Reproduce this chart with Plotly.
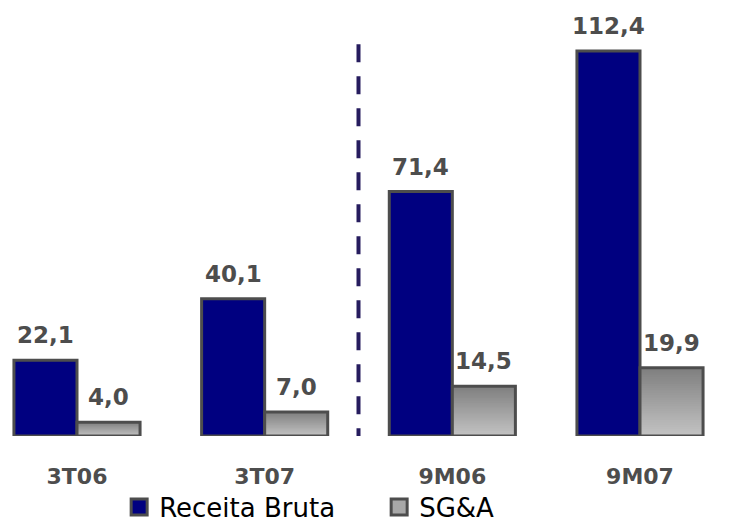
import numpy as np
import plotly.graph_objects as go

categories = ["3T06", "3T07", "9M06", "9M07"]
receita = [22.1, 40.1, 71.4, 112.4]
sga = [4.0, 7.0, 14.5, 19.9]
labels_receita = ["22,1", "40,1", "71,4", "112,4"]
labels_sga = ["4,0", "7,0", "14,5", "19,9"]

idx = np.arange(len(categories))
W = 0.336
xr = idx - W / 2
xs = idx + W / 2
outline = dict(color="#4d4d4d", width=3)
txt_font = dict(family="DejaVu Sans", size=23, color="#4d4d4d")

fig = go.Figure()
fig.add_trace(go.Bar(x=xr, y=receita, width=W, name="Receita Bruta", showlegend=False,
                     marker=dict(color="#000080", line=outline)))

# gradient fill for SG&A: nested bars from tallest (dark top) to shortest (light bottom)
N = 30
top = np.array([0x7f, 0x7f, 0x7f])
bot = np.array([0xc4, 0xc4, 0xc4])
sga_arr = np.array(sga)
for k in range(N):
    f = (N - k) / N
    t = f - 0.5 / N
    c = bot + (top - bot) * t
    fig.add_trace(go.Bar(x=xs, y=sga_arr * f, width=W,
                         marker=dict(color="rgb(%d,%d,%d)" % tuple(c), line=dict(width=0)),
                         showlegend=False, hoverinfo="skip"))
fig.add_trace(go.Bar(x=xs, y=sga, width=W, showlegend=False, name="SG&A",
                     marker=dict(color="rgba(0,0,0,0)", line=outline)))

# legend entries
fig.add_trace(go.Scatter(x=[None], y=[None], mode="markers", name="Receita Bruta",
                         marker=dict(symbol="square", size=18, color="#000080",
                                     line=dict(color="#4d4d4d", width=3))))
fig.add_trace(go.Scatter(x=[None], y=[None], mode="markers", name="SG&A",
                         marker=dict(symbol="square", size=18, color="#a8a8a8",
                                     line=dict(color="#4d4d4d", width=3))))

for x, v, s in zip(xr, receita, labels_receita):
    fig.add_annotation(x=x, y=v, text="<b>%s</b>" % s, showarrow=False,
                       yanchor="bottom", yshift=10, font=txt_font)
for x, v, s in zip(xs, sga, labels_sga):
    fig.add_annotation(x=x, y=v, text="<b>%s</b>" % s, showarrow=False,
                       yanchor="bottom", yshift=10, font=txt_font)

fig.add_shape(type="line", xref="x", yref="y", x0=1.5, x1=1.5, y0=-3, y1=114.5,
              line=dict(color="#261c5e", width=4, dash="18px,14px"))

fig.update_layout(
    width=731, height=525,
    margin=dict(l=0, r=0, t=10, b=89, autoexpand=False),
    barmode="overlay",
    plot_bgcolor="white", paper_bgcolor="white",
    showlegend=True,
    legend=dict(orientation="h", x=0.163, xanchor="left",
                yref="container", y=0.0343, yanchor="middle",
                font=dict(family="DejaVu Sans", size=26, color="#000000"),
                itemsizing="trace", entrywidth=215, bgcolor="rgba(0,0,0,0)"),
    xaxis=dict(range=[-0.4103, 3.4849], tickvals=idx, ticktext=["<b>%s</b>" % c for c in categories],
               tickfont=dict(family="DejaVu Sans", size=22, color="#4d4d4d"),
               ticks="outside", ticklen=21, tickcolor="rgba(0,0,0,0)",
               showgrid=False, zeroline=False, showline=False),
    yaxis=dict(range=[0, 124.4], visible=False, showgrid=False, zeroline=False),
)
fig.write_html("out.html", config={"displayModeBar": False},
               post_script="document.body.style.margin='0';document.body.style.overflow='hidden';")
